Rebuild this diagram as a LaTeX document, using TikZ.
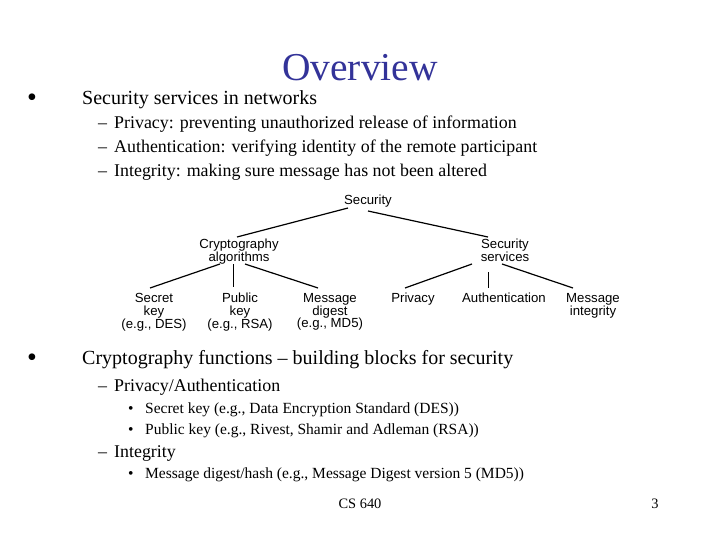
\documentclass[tikz,border=0pt]{standalone}
\usepackage{fontspec}
\setmainfont{Liberation Serif}
\newfontfamily\arialf{Liberation Sans}
\definecolor{ttl}{RGB}{51,51,153}
\begin{document}
\begin{tikzpicture}[x=1pt,y=-1pt,
  t/.style={inner sep=0pt,anchor=base west},
  L1/.style={t,font=\fontsize{20}{20}\selectfont},
  B1/.style={t,font=\fontsize{28}{28}\selectfont},
  L2/.style={t,font=\fontsize{17.9}{18}\selectfont},
  L3/.style={t,font=\fontsize{15.5}{16}\selectfont},
  tr/.style={inner sep=0pt,font=\arialf\fontsize{13.2}{12.8}\selectfont,align=center,anchor=north},
  e/.style={line width=1.2pt}]
\useasboundingbox (0,0) rectangle (720,540);
\node[inner sep=0pt,anchor=base,text=ttl,font=\fontsize{39.5}{40}\selectfont] (title) at (360,81) {Overview};
\node[B1] (d1) at (27,107) {\textbullet}; \node[L1] (b1) at (82,105) {Security services in networks};
\node[L2] (e1) at (98,129) {--}; \node[L2] (s1) at (114,129) {Privacy: preventing unauthorized release of information};
\node[L2] (e2) at (98,153) {--}; \node[L2] (s2) at (114,153) {Authentication: verifying identity of the remote participant};
\node[L2] (e3) at (98,177) {--}; \node[L2] (s3) at (114,177) {Integrity: making sure message has not been altered};
\node[tr] (sec) at (368,195) {Security};
\node[tr] (ca) at (239,239) {Cryptography\\algorithms};
\node[tr] (ss) at (505,239) {Security\\services};
\node[tr] (sk) at (154,293) {Secret\\key\\(e.g., DES)};
\node[tr] (pk) at (240,293) {Public\\key\\(e.g., RSA)};
\node[tr] (md) at (330,293) {Message\\digest\\(e.g., MD5)};
\node[tr] (pr) at (413,293) {Privacy};
\node[tr] (au) at (504,293) {Authentication};
\node[tr] (mi) at (593,293) {Message\\integrity};
\coordinate (a1) at (348,208); \coordinate (a2) at (237,237);
\coordinate (b1e) at (368,211); \coordinate (b2) at (488,237);
\draw[e] (a1) -- (a2); \draw[e] (b1e) -- (b2);
\draw[e] (220,264) -- (150,288);
\draw (233,264) -- (233,287);
\draw[e] (245,264) -- (318,288);
\draw[e] (472,264) -- (405,288);
\draw (488,272) -- (488,288);
\draw[e] (502,264) -- (573,288);
\node[B1] (d2) at (27,366) {\textbullet}; \node[L1] (b2n) at (82,364) {Cryptography functions -- building blocks for security};
\node[L2] (e4) at (98,391) {--}; \node[L2] (p1) at (114,391) {Privacy/Authentication};
\node[L3] (f1) at (128,413) {\textbullet}; \node[L3] (q1) at (145,413) {Secret key (e.g., Data Encryption Standard (DES))};
\node[L3] (f2) at (128,434) {\textbullet}; \node[L3] (q2) at (145,434) {Public key (e.g., Rivest, Shamir and Adleman (RSA))};
\node[L2] (e5) at (98,457) {--}; \node[L2] (p2) at (114,457) {Integrity};
\node[L3] (f3) at (128,478) {\textbullet}; \node[L3] (q3) at (145,478) {Message digest/hash (e.g., Message Digest version 5 (MD5))};
\node[inner sep=0pt,anchor=base,font=\fontsize{14.4}{14}\selectfont] (cs) at (360,508) {CS 640};
\node[inner sep=0pt,anchor=base,font=\fontsize{14.4}{14}\selectfont] (pg) at (655,508) {3};
\end{tikzpicture}
\end{document}
